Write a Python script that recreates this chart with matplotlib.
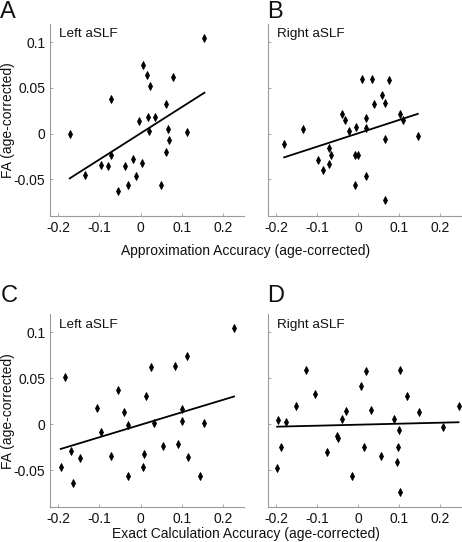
import numpy as np
import matplotlib
matplotlib.use("Agg")
import matplotlib.pyplot as plt

plt.rcParams['font.family'] = ['Liberation Sans', 'DejaVu Sans']
plt.rcParams['axes.unicode_minus'] = False

# Panel A: approximation accuracy vs left aSLF FA
approx_left_x = [-0.172, -0.134, -0.095, -0.078, -0.072, -0.071, -0.054, -0.038, -0.031,
                 -0.019, -0.011, -0.005, 0.003, 0.005, 0.016, 0.019, 0.021, 0.024, 0.035,
                 0.049, 0.061, 0.062, 0.066, 0.070, 0.078, 0.112, 0.155]
approx_left_y = [0.000, -0.045, -0.034, -0.036, 0.038, -0.023, -0.063, -0.036, -0.056,
                 -0.028, -0.046, 0.014, -0.032, 0.075, 0.064, 0.018, 0.0025, 0.052, 0.018,
                 -0.056, 0.032, -0.020, 0.005, -0.007, 0.062, 0.002, 0.105]

# Panel B: approximation accuracy vs right aSLF FA
approx_right_x = [-0.180, -0.133, -0.097, -0.086, -0.072, -0.070, -0.065, -0.040, -0.031,
                  -0.022, -0.006, -0.008, -0.001, -0.007, 0.009, 0.019, 0.019, 0.019, 0.034,
                  0.039, 0.057, 0.065, 0.066, 0.066, 0.075, 0.102, 0.109, 0.145]
approx_right_y = [-0.012, 0.005, -0.029, -0.040, -0.033, -0.016, -0.024, 0.021, 0.015,
                  0.003, 0.007, -0.024, -0.024, -0.056, 0.060, 0.017, 0.006, -0.047, 0.060,
                  0.032, 0.042, 0.033, -0.006, -0.073, 0.059, 0.021, 0.0145, -0.0025]

# Panel C: exact calculation accuracy vs left aSLF FA
exact_left_x = [-0.194, -0.183, -0.168, -0.165, -0.148, -0.106, -0.095, -0.071, -0.055,
                -0.041, -0.030, -0.030, 0.007, 0.009, 0.012, 0.025, 0.032, 0.055, 0.084,
                0.091, 0.100, 0.101, 0.112, 0.115, 0.145, 0.154, 0.227]
exact_left_y = [-0.046, 0.051, -0.029, -0.064, -0.037, 0.0174, -0.008, -0.0345, 0.037,
                0.013, -0.001, -0.0566, -0.047, -0.0327, 0.031, 0.062, 0.0015, -0.024, 0.063,
                -0.0218, 0.004, 0.017, 0.074, -0.036, -0.0566, 0.0015, 0.105]

# Panel D: exact calculation accuracy vs right aSLF FA
exact_right_x = [-0.197, -0.194, -0.188, -0.175, -0.150, -0.128, -0.104, -0.076, -0.051,
                 -0.048, -0.040, -0.029, -0.016, 0.006, 0.013, 0.020, 0.031, 0.056, 0.088,
                 0.095, 0.097, 0.100, 0.101, 0.102, 0.119, 0.149, 0.206, 0.244]
exact_right_y = [-0.048, 0.0043, -0.025, 0.002, 0.020, 0.059, 0.033, -0.030, -0.0123,
                 -0.015, 0.0058, 0.0145, -0.0565, 0.0417, -0.025, 0.058, 0.016, -0.034, 0.0054,
                 -0.041, -0.025, -0.0065, 0.059, -0.074, 0.031, 0.0138, -0.0033, 0.020]

x_ticks = [-0.2, -0.1, 0, 0.1, 0.2]
x_tick_labels = ['-0.2', '-0.1', '0', '0.1', '0.2']
y_ticks = [-0.05, 0, 0.05, 0.1]
y_tick_labels = ['-0.05', '0', '0.05', '0.1']

W, H = 462, 542
fig = plt.figure(figsize=(W / 100, H / 100), dpi=100)


def px_axes(left, top, right, bottom):
    return fig.add_axes([left / W, 1 - bottom / H, (right - left) / W, (bottom - top) / H])


panels = [
    (px_axes(50, 24, 243.5, 215.7), approx_left_x, approx_left_y, 'Left aSLF', True, 'A', 0, 18),
    (px_axes(267.7, 24, 461, 215.7), approx_right_x, approx_right_y, 'Right aSLF', False, 'B', 267, 18),
    (px_axes(50, 314, 243.5, 507), exact_left_x, exact_left_y, 'Left aSLF', True, 'C', 1, 302),
    (px_axes(267.7, 314, 461, 507), exact_right_x, exact_right_y, 'Right aSLF', False, 'D', 267, 302),
]

gray = '#9a9a9a'
text_color = '#111111'
for ax, xs, ys, title, show_y, letter, lx, ly in panels:
    xs = np.array(xs)
    ys = np.array(ys)
    ax.plot(xs, ys, linestyle='none', marker='d', markersize=4.0, color='black',
            markeredgewidth=0.6)
    slope, intercept = np.polyfit(xs, ys, 1)
    fit_x = np.array([xs.min(), xs.max()])
    ax.plot(fit_x, slope * fit_x + intercept, color='black', linewidth=1.3)

    ax.set_xlim(-0.22, 0.25)
    ax.set_ylim(-0.09, 0.12)
    ax.set_xticks(x_ticks)
    ax.set_xticklabels(x_tick_labels)
    ax.set_yticks(y_ticks)
    if show_y:
        ax.set_yticklabels(y_tick_labels)
    else:
        ax.set_yticklabels([])
    for side in ['top', 'right']:
        ax.spines[side].set_visible(False)
    for side in ['left', 'bottom']:
        ax.spines[side].set_color(gray)
        ax.spines[side].set_linewidth(0.8)
    ax.tick_params(direction='in', length=2, width=0.6, color=gray,
                   labelsize=10, labelcolor=text_color, pad=3.5)
    ax.text(0.047, 0.93, title, transform=ax.transAxes, fontsize=9.7,
            va='baseline', ha='left', color=text_color)
    fig.text(lx / W, 1 - ly / H, letter, fontsize=17, va='baseline', ha='left',
             color=text_color)

fig.text(1 / W, 1 - 120 / H, 'FA (age-corrected)', rotation=90, fontsize=10,
         va='center', ha='left', color=text_color)
fig.text(1 / W, 1 - 411 / H, 'FA (age-corrected)', rotation=90, fontsize=10,
         va='center', ha='left', color=text_color)
fig.text(246 / W, 1 - 255 / H, 'Approximation Accuracy (age-corrected)', fontsize=10,
         va='baseline', ha='center', color=text_color)
fig.text(246 / W, 1 - 538 / H, 'Exact Calculation Accuracy (age-corrected)', fontsize=10,
         va='baseline', ha='center', color=text_color)

fig.savefig('out.png', dpi=100)
